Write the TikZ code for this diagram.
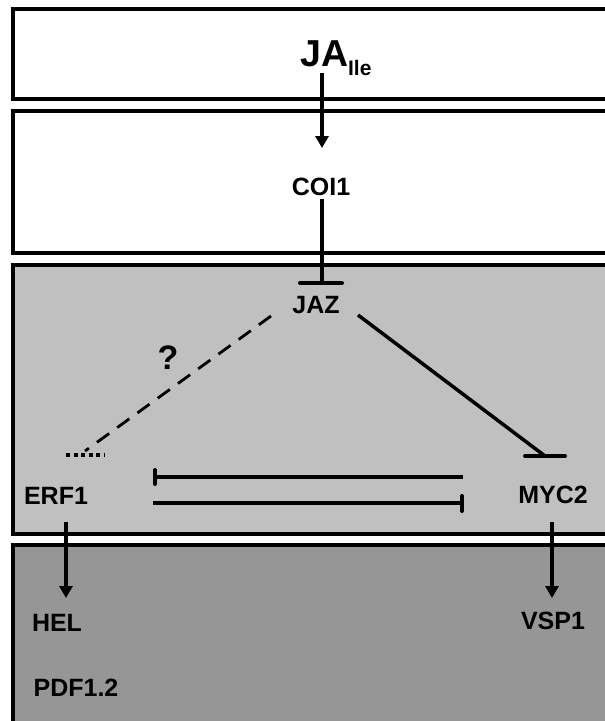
\documentclass[tikz,border=0pt]{standalone}
\usepackage{fontspec}
\setmainfont{Liberation Sans}
\usetikzlibrary{arrows.meta}
\definecolor{midgray}{HTML}{C0C0C0}
\definecolor{darkgray}{HTML}{969696}
\tikzset{
  panel/.style={line width=4pt},
  lbl/.style={font=\bfseries\fontsize{25}{28}\selectfont, inner sep=0pt},
  arr/.style={line width=3.5pt, -{Triangle[width=13pt,length=12pt]}},
  inh/.style={line width=3.5pt},
  tbar/.style={line width=4pt, line cap=round},
  dbar/.style={line width=4.5pt, dash pattern=on 4pt off 3.5pt},
  dline/.style={line width=2.8pt, dash pattern=on 15pt off 10pt},
}
\begin{document}
\begin{tikzpicture}[x=1pt,y=-1pt]
\useasboundingbox (0,0) rectangle (605,721);
\clip (0,0) rectangle (605,721);
% panels
\draw[panel] (13,9) rectangle (640,99);
\draw[panel] (13,111) rectangle (640,253);
\draw[panel, fill=midgray] (13,265) rectangle (640,534);
\draw[panel, fill=darkgray] (13,545) rectangle (640,760);
% labels
\node[anchor=base west, inner sep=0pt] (ja) at (300,66)
  {\bfseries\fontsize{37.5}{40}\selectfont JA\raisebox{-9pt}{\fontsize{21}{23}\selectfont Ile}};
\node[lbl] (coi) at (321,187) {COI1};
\node[lbl] (jaz) at (316,305) {JAZ};
\node[lbl, font=\bfseries\fontsize{34}{36}\selectfont] (q) at (168,358) {?};
\node[lbl] (erf) at (56,496) {ERF1};
\node[lbl] (myc) at (553,495) {MYC2};
\node[lbl] (hel) at (57,623) {HEL};
\node[lbl] (vsp) at (553,621) {VSP1};
\node[lbl] (pdf) at (76,688) {PDF1.2};
% connector end points
\coordinate (jaS) at (322,73);
\coordinate (coiN) at (322,148);
\coordinate (coiS) at (322,199);
\coordinate (jazN) at (322,283);
\coordinate (jazW) at (271,316);
\coordinate (jazE) at (358,315);
\coordinate (erfN) at (85,451);
\coordinate (mycN) at (545,456);
\coordinate (erfS) at (66,522);
\coordinate (helN) at (66,598);
\coordinate (mycS) at (552,522);
\coordinate (vspN) at (552,598);
\coordinate (erfE1) at (155,477);
\coordinate (mycW1) at (463,477);
\coordinate (erfE2) at (153,503);
\coordinate (mycW2) at (462,503);
% connectors
\draw[arr] (jaS) -- (coiN);
\draw[inh] (coiS) -- (jazN);
\draw[tbar] ([xshift=-22pt]jazN) -- ([xshift=20pt]jazN);
\draw[inh] (jazE) -- (mycN);
\draw[tbar] (525,456) -- (565,456);
\draw[dline] (jazW) -- (erfN);
\draw[dbar] (66,455) -- (104,455);
\draw[inh] (mycW1) -- (erfE1);
\draw[tbar] ([yshift=-7pt]erfE1) -- ([yshift=7pt]erfE1);
\draw[inh] (erfE2) -- (mycW2);
\draw[tbar] ([yshift=-8pt]mycW2) -- ([yshift=7pt]mycW2);
\draw[arr] (erfS) -- (helN);
\draw[arr] (mycS) -- (vspN);
\end{tikzpicture}
\end{document}
